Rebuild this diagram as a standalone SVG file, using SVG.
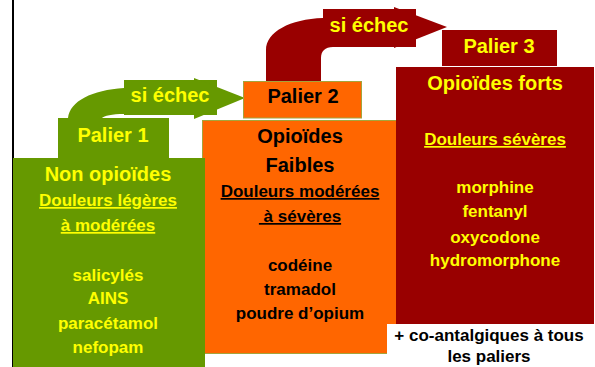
<svg xmlns="http://www.w3.org/2000/svg" width="595" height="367" viewBox="0 0 595 367">
<style>
text{font-family:"Liberation Sans",Arial,sans-serif;font-weight:bold;text-anchor:middle}
.y{fill:#FFFF00}
.k{fill:#000000}
.big{font-size:20px}
.mid{font-size:17px}
.u{text-decoration:underline}
.g{fill:#669900}
.o{fill:#FF6600}
.r{fill:#990000}
.ol{stroke:#A4A43C;stroke-width:1}
</style>
<rect x="0" y="0" width="595" height="367" fill="#FFFFFF"/>
<line x1="13" y1="0" x2="13" y2="367" stroke="#000000" stroke-width="2"/>
<g id="connectors">
  <g id="arrow1">
    <path class="g" d="M68,118 C70,101 92,90 124,88 L124,114 C112,114 104,116 102,118 Z"/>
    <rect class="g" x="124" y="80" width="93" height="35"/>
    <polygon class="g" points="194,78 245,98 194,119"/>
    <text class="y big" x="170" y="102">si échec</text>
  </g>
  <g id="arrow2">
    <path class="r" d="M266,81 L266,50 C266,32 290,19 323,18 L340,18 L340,47 L333,47 C325,47 321,51 321,58 L321,81 Z"/>
    <rect class="r" x="323" y="9" width="93" height="38"/>
    <polygon class="r" points="394,7 447,27 394,48"/>
    <text class="y big" x="369" y="32">si échec</text>
  </g>
</g>
<g id="palier2">
  <rect class="o ol" x="202.5" y="120.5" width="194" height="233"/>
  <rect class="o ol" x="243.5" y="81.5" width="118" height="36.5"/>
  <text class="k big" x="303" y="103">Palier 2</text>
  <text class="k big" x="300" y="143">Opioïdes</text>
  <text class="k big" x="300" y="172">Faibles</text>
  <text class="k mid u" x="300" y="197">Douleurs modérées</text>
  <text class="k mid u" x="300" y="222" style="white-space:pre"> à sévères</text>
  <text class="k mid" x="300" y="271">codéine</text>
  <text class="k mid" x="300" y="295">tramadol</text>
  <text class="k mid" x="300" y="319">poudre d’opium</text>
</g>
<g id="palier1">
  <rect class="g" x="13" y="158" width="192" height="209"/>
  <rect class="g" x="58" y="118" width="111" height="41"/>
  <text class="y big" x="113" y="142">Palier 1</text>
  <text class="y big" x="108" y="181">Non opioïdes</text>
  <text class="y mid u" x="108" y="206">Douleurs légères</text>
  <text class="y mid u" x="108" y="231">à modérées</text>
  <text class="y mid" x="108" y="281">salicylés</text>
  <text class="y mid" x="108" y="304">AINS</text>
  <text class="y mid" x="108" y="329">paracétamol</text>
  <text class="y mid" x="108" y="353">nefopam</text>
</g>
<g id="palier3">
  <rect class="r" x="396" y="67" width="198" height="257"/>
  <rect class="r" x="442" y="30" width="115" height="36"/>
  <text class="y big" x="499" y="53">Palier 3</text>
  <text class="y big" x="495" y="90">Opioïdes forts</text>
  <text class="y mid u" x="495" y="145">Douleurs sévères</text>
  <text class="y mid" x="495" y="193">morphine</text>
  <text class="y mid" x="495" y="217">fentanyl</text>
  <text class="y mid" x="495" y="243">oxycodone</text>
  <text class="y mid" x="495" y="266">hydromorphone</text>
</g>
<g id="note">
  <rect x="387" y="324" width="208" height="43" fill="#FFFFFF"/>
  <text class="k mid" x="489" y="341">+ co-antalgiques à tous</text>
  <text class="k mid" x="489" y="362">les paliers</text>
</g>
</svg>
